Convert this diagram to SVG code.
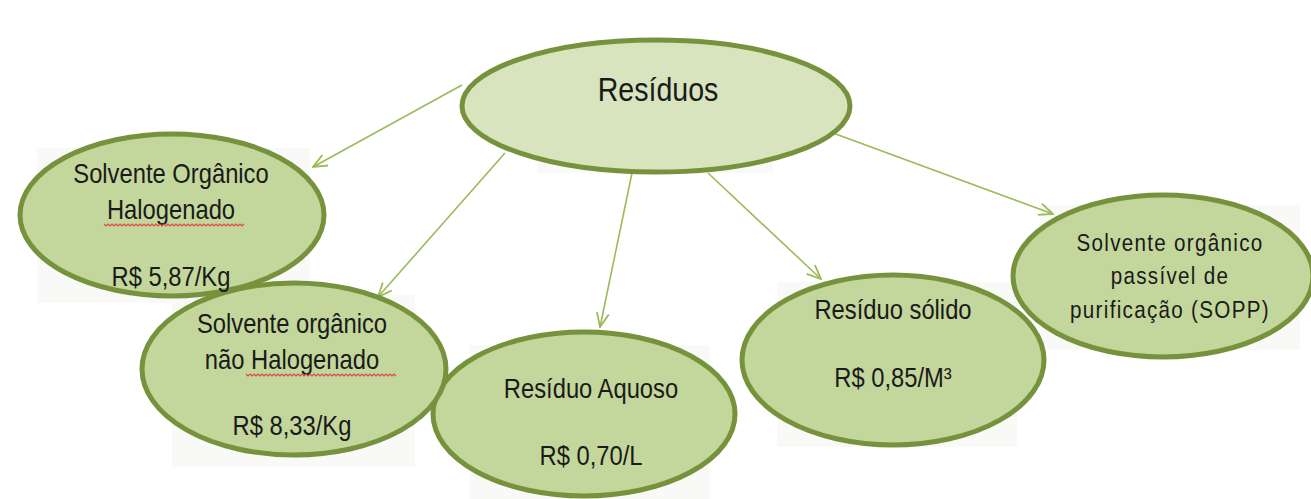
<svg xmlns="http://www.w3.org/2000/svg" width="1311" height="499" viewBox="0 0 1311 499">
<style>
.bg{fill:#f9f9f7}
.top{fill:#d7e4bd;stroke:#76923c;stroke-width:5}
.node{fill:#c3d69b;stroke:#76923c;stroke-width:5}
.t{font-family:"Liberation Sans",Arial,sans-serif;fill:#1a1a1a;text-anchor:middle}
.big{font-size:34px}
.mid{font-size:27px}
.sm{font-size:24px;letter-spacing:1.5px}
.sq{fill:none;stroke:#e0474c;stroke-width:1.2}
.edge{fill:none;stroke:#9bbb59;stroke-width:1.6}
</style>
<defs>
<marker id="arr" viewBox="0 0 16 14" refX="15" refY="7" markerWidth="16" markerHeight="14" markerUnits="userSpaceOnUse" orient="auto">
<path d="M1,1 L15,7 L1,13" fill="none" stroke="#9bbb59" stroke-width="1.8"/>
</marker>
</defs>
<rect width="1311" height="499" fill="#ffffff"/>
<g id="backgrounds">
<rect class="bg" x="537" y="50" width="236" height="123"/>
<rect class="bg" x="37" y="148" width="273" height="155"/>
<rect class="bg" x="172" y="295" width="243" height="172"/>
<rect class="bg" x="470" y="345" width="240" height="154"/>
<rect class="bg" x="777" y="282" width="240" height="165"/>
<rect class="bg" x="1040" y="205" width="260" height="145"/>
</g>
<g id="connectors">
<line class="edge" x1="462" y1="85" x2="313" y2="167" marker-end="url(#arr)"/>
<line class="edge" x1="505" y1="153" x2="378" y2="297" marker-end="url(#arr)"/>
<line class="edge" x1="632" y1="173" x2="600" y2="327" marker-end="url(#arr)"/>
<line class="edge" x1="708" y1="173" x2="821" y2="279" marker-end="url(#arr)"/>
<line class="edge" x1="833" y1="133" x2="1053" y2="214" marker-end="url(#arr)"/>
</g>
<g id="n-residuos">
<ellipse class="top" cx="656" cy="106" rx="194" ry="66"/>
<text class="t big" transform="translate(658,101) scale(0.84,1)" x="0" y="0">Resíduos</text>
</g>
<g id="n-solido">
<ellipse class="node" cx="893" cy="360" rx="151" ry="85"/>
<g transform="translate(893,0) scale(0.88,1)">
<text class="t mid" x="0" y="319">Resíduo sólido</text>
<text class="t mid" x="0" y="387">R$ 0,85/M³</text>
</g>
</g>
<g id="n-aquoso">
<ellipse class="node" cx="584" cy="414" rx="151" ry="82"/>
<g transform="translate(591,0) scale(0.88,1)">
<text class="t mid" x="0" y="398">Resíduo Aquoso</text>
<text class="t mid" x="0" y="465">R$ 0,70/L</text>
</g>
</g>
<g id="n-nao-halogenado">
<ellipse class="node" cx="294" cy="369" rx="152" ry="86"/>
<g transform="translate(292,0) scale(0.88,1)">
<text class="t mid" x="0" y="333">Solvente orgânico</text>
<text class="t mid" x="0" y="369">não Halogenado</text>
<text class="t mid" x="0" y="435">R$ 8,33/Kg</text>
</g>
<path class="sq" d="M246,374 l2,2 l2,-2 l2,2 l2,-2 l2,2 l2,-2 l2,2 l2,-2 l2,2 l2,-2 l2,2 l2,-2 l2,2 l2,-2 l2,2 l2,-2 l2,2 l2,-2 l2,2 l2,-2 l2,2 l2,-2 l2,2 l2,-2 l2,2 l2,-2 l2,2 l2,-2 l2,2 l2,-2 l2,2 l2,-2 l2,2 l2,-2 l2,2 l2,-2 l2,2 l2,-2 l2,2 l2,-2 l2,2 l2,-2 l2,2 l2,-2 l2,2 l2,-2 l2,2 l2,-2 l2,2 l2,-2 l2,2 l2,-2 l2,2 l2,-2 l2,2 l2,-2 l2,2 l2,-2 l2,2 l2,-2 l2,2 l2,-2 l2,2 l2,-2 l2,2 l2,-2 l2,2 l2,-2 l2,2 l2,-2 l2,2 l2,-2 l2,2 l2,-2 l2,2"/>
</g>
<g id="n-halogenado">
<ellipse class="node" cx="172" cy="215" rx="152" ry="81"/>
<g transform="translate(171,0) scale(0.88,1)">
<text class="t mid" x="0" y="183">Solvente Orgânico</text>
<text class="t mid" x="0" y="219">Halogenado</text>
<text class="t mid" x="0" y="286">R$ 5,87/Kg</text>
</g>
<path class="sq" d="M104,224 l2,2 l2,-2 l2,2 l2,-2 l2,2 l2,-2 l2,2 l2,-2 l2,2 l2,-2 l2,2 l2,-2 l2,2 l2,-2 l2,2 l2,-2 l2,2 l2,-2 l2,2 l2,-2 l2,2 l2,-2 l2,2 l2,-2 l2,2 l2,-2 l2,2 l2,-2 l2,2 l2,-2 l2,2 l2,-2 l2,2 l2,-2 l2,2 l2,-2 l2,2 l2,-2 l2,2 l2,-2 l2,2 l2,-2 l2,2 l2,-2 l2,2 l2,-2 l2,2 l2,-2 l2,2 l2,-2 l2,2 l2,-2 l2,2 l2,-2 l2,2 l2,-2 l2,2 l2,-2 l2,2 l2,-2 l2,2 l2,-2 l2,2 l2,-2 l2,2 l2,-2 l2,2 l2,-2 l2,2 l2,-2"/>
</g>
<g id="n-sopp">
<ellipse class="node" cx="1163" cy="276" rx="150" ry="81"/>
<g transform="translate(1170,0) scale(0.86,1)">
<text class="t sm" x="0" y="251">Solvente orgânico</text>
<text class="t sm" x="0" y="284">passível de</text>
<text class="t sm" x="0" y="318">purificação (SOPP)</text>
</g>
</g>
</svg>
